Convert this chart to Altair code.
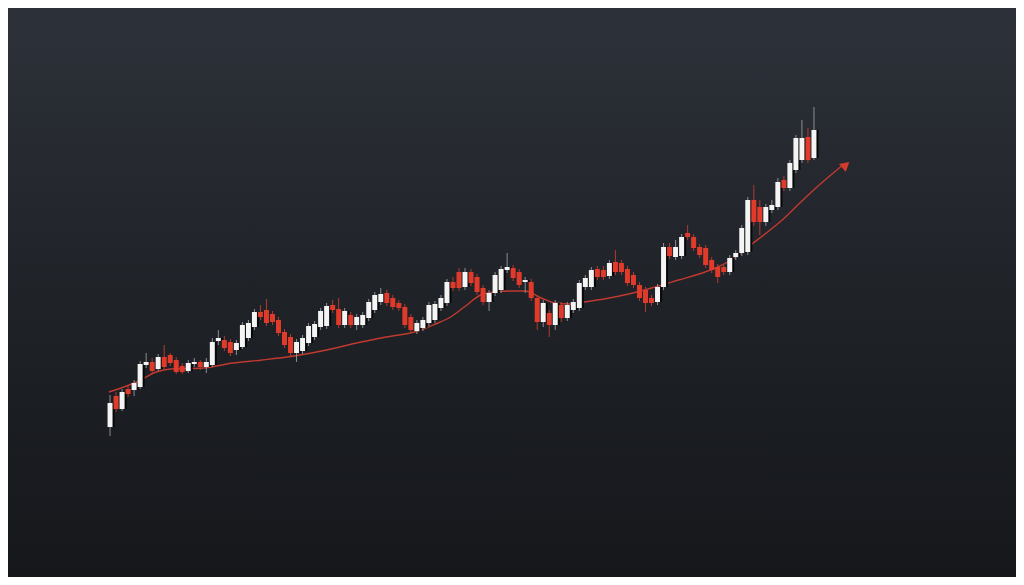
import altair as alt
import pandas as pd

# Candle prices (arbitrary price units)
opens = [158,189,176,196,195,198,220,223,216,228,230,225,219,214,221,223,218,220,244,245,
         243,235,238,247,258,273,275,271,265,253,248,232,234,242,248,258,259,280,276,260,
         270,260,260,267,275,283,292,287,282,278,268,254,257,262,265,277,282,303,313,298,
         313,308,297,283,292,295,315,317,313,303,303,287,263,272,260,280,267,275,277,298,
         298,316,315,309,323,322,316,310,300,295,287,283,298,338,328,329,352,348,338,337,
         325,318,318,313,328,332,333,385,378,363,375,378,405,397,415,425,448,427]
closes = [182,176,193,191,202,221,223,214,228,218,222,213,213,222,223,218,223,243,247,237,
          232,242,260,262,273,268,262,263,252,240,232,243,247,259,261,274,279,275,260,274,
          260,268,270,283,290,291,282,278,277,260,255,262,265,280,281,287,303,297,297,313,
          302,293,283,292,310,316,318,307,300,305,287,263,282,260,282,267,280,283,302,307,
          315,308,308,322,313,313,302,300,287,282,282,298,338,329,338,348,348,337,330,320,
          315,308,313,327,332,357,385,363,363,378,380,403,397,422,447,447,425,455]
highs = [190,193,196,199,205,224,232,227,231,240,232,228,222,225,227,225,227,247,255,249,
         246,245,263,265,276,280,286,274,268,256,251,246,250,262,264,277,282,285,287,277,
         273,271,273,286,293,297,295,290,285,281,271,265,268,283,284,290,306,308,317,317,
         316,311,300,295,313,319,332,320,316,308,306,290,285,275,285,283,283,286,305,310,
         318,319,319,325,335,325,319,313,303,298,290,301,342,342,345,351,360,351,341,340,
         328,321,321,330,335,360,388,400,385,381,385,407,409,425,450,465,457,478]
lows = [149,173,174,188,189,196,217,211,214,216,219,211,211,212,218,215,212,218,240,234,
        229,230,236,244,255,265,259,260,249,237,229,223,231,239,245,255,256,272,257,257,
        257,255,257,264,272,280,279,275,274,257,252,251,254,259,262,274,279,294,294,295,
        299,290,280,274,289,292,312,304,297,292,284,255,258,248,255,263,264,272,274,295,
        295,305,305,306,310,310,299,297,284,273,279,280,295,326,325,326,345,334,327,317,
        312,302,310,310,325,329,330,359,350,359,372,375,394,394,412,422,422,425]

# Moving-average line (position in candle index, price)
ma_index = [-0.2, 2.3, 4.4, 7.7, 10.0, 15.5, 20.4, 25.3, 30.6, 36.0, 41.0, 45.9, 51.2, 54.1,
            56.6, 59.1, 61.6, 64.0, 66.5, 69.0, 71.7, 73.9, 76.4, 78.8, 82.1, 86.2, 90.0,
            94.5, 98.9, 101.0, 104.3, 106.5, 109.3, 112.1, 115.0, 117.5, 121.6]
ma_price = [193, 198, 203, 213, 216, 217, 222, 225, 229, 235, 242, 248, 254, 261, 268, 279,
            290, 293, 294, 294, 287, 282, 281, 283, 286, 291, 297, 305, 313, 318, 329, 340,
            353, 367, 384, 398, 419]
arrow_index = [122.3]
arrow_price = [420]

candles = pd.DataFrame({
    "i": list(range(len(opens))),
    "open": opens, "close": closes, "high": highs, "low": lows,
})
candles["dir"] = ["up" if c >= o else "down" for o, c in zip(opens, closes)]
ma = pd.DataFrame({"i": ma_index, "p": ma_price})
arrow = pd.DataFrame({"i": arrow_index, "p": arrow_price})

W, H = 1008, 569
xs = alt.Scale(domain=[-16.13, 149.75], nice=False, zero=False)
ys = alt.Scale(domain=[8, 577], nice=False, zero=False)
X = alt.X("i:Q", scale=xs, axis=None)

is_up = alt.datum.dir == "up"
body_color = alt.condition(is_up, alt.value("#f4f4f4"), alt.value("#e03a2b"))
wick_color = alt.condition(is_up, alt.value("#8a8e94"), alt.value("#b03a30"))

bg = alt.Chart(alt.Data(values=[{}])).mark_rect(
    color=alt.LinearGradient(
        gradient="linear",
        stops=[alt.GradientStop(color="#2d3139", offset=0),
               alt.GradientStop(color="#1e2126", offset=0.55),
               alt.GradientStop(color="#15171b", offset=1)],
        x1=0, x2=0, y1=0, y2=1)
).encode(x=alt.value(0), x2=alt.value(W), y=alt.value(0), y2=alt.value(H))

base = alt.Chart(candles)

wicks = base.mark_rule(strokeWidth=1).encode(
    x=X, y=alt.Y("low:Q", scale=ys, axis=None), y2="high:Q", color=wick_color)

shadow = base.transform_filter(is_up).mark_bar(
    size=3, xOffset=3, color="#060708", opacity=1).encode(
    x=X, y=alt.Y("open:Q", scale=ys, axis=None), y2="close:Q")

bodies = base.mark_bar(size=5, opacity=1).encode(
    x=X, y=alt.Y("open:Q", scale=ys, axis=None), y2="close:Q", color=body_color)

line = alt.Chart(ma).mark_line(color="#c03a30", strokeWidth=1.4, interpolate="monotone").encode(
    x=alt.X("i:Q", scale=xs, axis=None), y=alt.Y("p:Q", scale=ys, axis=None))

head = alt.Chart(arrow).mark_point(
    shape="triangle-up", angle=50, filled=True, size=110, color="#d03b2e", opacity=1).encode(
    x=alt.X("i:Q", scale=xs, axis=None), y=alt.Y("p:Q", scale=ys, axis=None))

chart = alt.layer(bg, line, head, wicks, shadow, bodies).properties(
    width=W, height=H,
    autosize=alt.AutoSizeParams(type="fit", contains="padding"),
    padding=0,
    background="#1f2227",
).configure_view(stroke=None)

chart.save("out.html", embed_options={"renderer": "svg", "actions": False})
